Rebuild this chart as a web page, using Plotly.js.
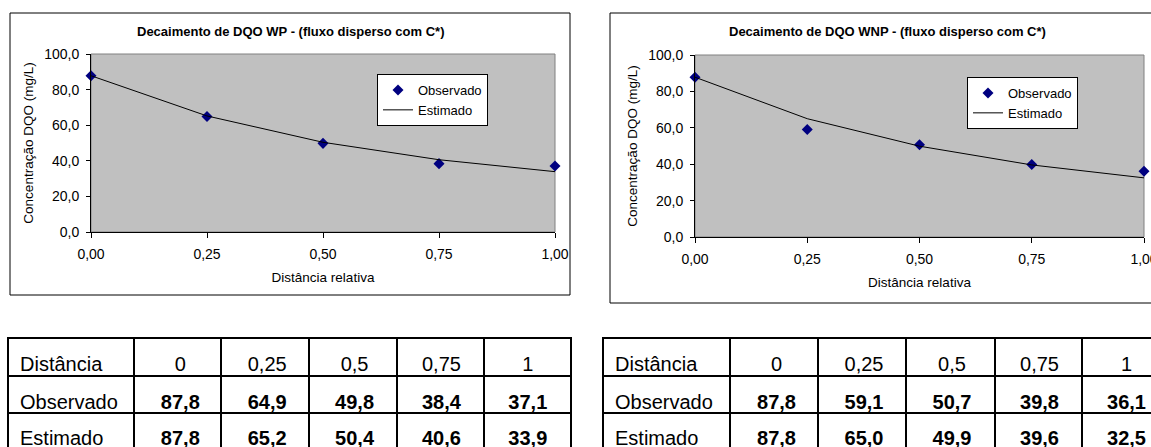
<!DOCTYPE html>
<html>
<head>
<meta charset="utf-8">
<script src="https://cdn.plot.ly/plotly-3.0.1.min.js"></script>
<style>
html, body { margin: 0; padding: 0; overflow: hidden; background: #ffffff; }
#chart { width: 1180px; height: 480px; }
</style>
</head>
<body>
<div id="chart"></div>
<script>
// ---- data ----
const distancia = [0, 0.25, 0.5, 0.75, 1];
const distanciaLabels = ['0', '0,25', '0,5', '0,75', '1'];
const wpObservado = [87.8, 64.9, 49.8, 38.4, 37.1];
const wpEstimado = [87.8, 65.2, 50.4, 40.6, 33.9];
const wnpObservado = [87.8, 59.1, 50.7, 39.8, 36.1];
const wnpEstimado = [87.8, 65.0, 49.9, 39.6, 32.5];
const tituloWP = 'Decaimento de DQO WP - (fluxo disperso com C*)';
const tituloWNP = 'Decaimento de DQO WNP - (fluxo disperso com C*)';
const rotuloX = 'Distância relativa';
const rotuloY = 'Concentração DQO (mg/L)';
const nomesLinhas = ['Distância', 'Observado', 'Estimado'];

// ---- layout helpers ----
const W = 1180, H = 480;
const FONT = 'Liberation Sans, Arial, Helvetica, sans-serif';
const px = v => v / W;
const py = v => 1 - v / H;
const fmt = v => v.toFixed(1).replace('.', ',');

function axisX(l, r, anchor) {
  return {
    domain: [px(l), px(r)], range: [0, 1], anchor: anchor,
    tickvals: distancia, tickformat: '.2f',
    ticks: 'outside', ticklen: 5, tickcolor: '#000', tickwidth: 1,
    ticklabelstandoff: 4,
    showline: true, linecolor: '#000', linewidth: 1,
    showgrid: false, zeroline: false, fixedrange: true,
    tickfont: {family: FONT, size: 14, color: '#000'},
    title: {text: rotuloX, font: {family: FONT, size: 13.5, color: '#000'}, standoff: 11}
  };
}
function axisY(t, b, anchor) {
  return {
    domain: [py(b), py(t)], range: [0, 100], anchor: anchor,
    dtick: 20, tick0: 0, tickformat: '.1f',
    ticks: 'outside', ticklen: 4, tickcolor: '#000', tickwidth: 1,
    ticklabelstandoff: 4,
    showline: true, linecolor: '#000', linewidth: 1,
    showgrid: false, zeroline: false, fixedrange: true,
    tickfont: {family: FONT, size: 14, color: '#000'},
    title: {text: rotuloY, font: {family: FONT, size: 13.5, color: '#000'}, standoff: 7}
  };
}

function obsTrace(y, xa, ya, leg) {
  return {type: 'scatter', mode: 'markers', name: 'Observado', x: distancia, y: y,
    xaxis: xa, yaxis: ya, legend: leg, cliponaxis: false,
    marker: {symbol: 'diamond', size: 8.5, color: '#000080', line: {width: 0}}};
}
function estTrace(y, xa, ya, leg) {
  return {type: 'scatter', mode: 'lines', name: 'Estimado', x: distancia, y: y,
    xaxis: xa, yaxis: ya, legend: leg, cliponaxis: false,
    line: {color: '#000', width: 1}};
}

const colWidths = [126, 87, 88, 88, 87, 87];
const colAlign = ['left', 'center', 'center', 'center', 'center', 'center'];

function tableRows(obs, est) {
  return [
    [nomesLinhas[0]].concat(distanciaLabels),
    [nomesLinhas[1]].concat(obs.map(fmt)),
    [nomesLinhas[2]].concat(est.map(fmt))
  ];
}

// grid (cell borders) of a table: first row as header, the other two as cells
function tableGrid(l, r, obs, est) {
  const rows = tableRows(obs, est);
  const blankH = rows[0].map(() => '');
  const blankC = rows[0].map(() => ['', '']);
  return {
    type: 'table',
    domain: {x: [px(l), px(r)], y: [py(462), py(338)]},
    columnwidth: colWidths,
    header: {values: blankH, height: 38,
      line: {color: '#000', width: 2}, fill: {color: '#fff'},
      font: {family: FONT, size: 10, color: '#000'}},
    cells: {values: blankC, height: 37,
      line: {color: '#000', width: 2}, fill: {color: '#fff'},
      font: {family: FONT, size: 10, color: '#000'}}
  };
}
// text of one table row, sitting low in the cell like the reference
function tableText(l, r, vals, rowIdx) {
  const center = [363, 400.5, 436.5][rowIdx];
  const top = center - 15;
  const weights = vals.map((_, c) => (rowIdx > 0 && c > 0) ? 700 : 400);
  return {
    type: 'table',
    domain: {x: [px(l + 4), px(r)], y: [py(top + 42), py(top)]},
    columnwidth: colWidths,
    header: {values: vals, align: colAlign, height: 39,
      line: {color: 'rgba(0,0,0,0)', width: 0}, fill: {color: 'rgba(0,0,0,0)'},
      font: {family: FONT, size: 20, color: '#000', weight: weights}},
    cells: {values: []}
  };
}

function tableTraces(l, r, obs, est) {
  const rows = tableRows(obs, est);
  const out = [tableGrid(l, r, obs, est)];
  rows.forEach((vals, i) => out.push(tableText(l, r, vals, i)));
  return out;
}

const data = [
  obsTrace(wpObservado, 'x', 'y', 'legend'),
  estTrace(wpEstimado, 'x', 'y', 'legend'),
  obsTrace(wnpObservado, 'x2', 'y2', 'legend2'),
  estTrace(wnpEstimado, 'x2', 'y2', 'legend2')
].concat(tableTraces(8, 571, wpObservado, wpEstimado))
 .concat(tableTraces(603, 1170, wnpObservado, wnpEstimado));

function legendAt(l, t) {
  return {x: px(l), y: py(t), xanchor: 'left', yanchor: 'top',
    bgcolor: '#fff', bordercolor: '#000', borderwidth: 1,
    font: {family: FONT, size: 13, color: '#000'},
    itemwidth: 30, tracegroupgap: 0, traceorder: 'normal'};
}

function box(l, t, r, b, color) {
  return {type: 'rect', xref: 'paper', yref: 'paper', layer: 'below',
    x0: px(l), x1: px(r), y0: py(b), y1: py(t),
    line: {color: color, width: 1}, fillcolor: 'rgba(0,0,0,0)'};
}

const layout = {
  width: W, height: H,
  margin: {l: 0, r: 0, t: 0, b: 0},
  paper_bgcolor: '#fff', plot_bgcolor: '#c0c0c0',
  separators: ',.',
  showlegend: true,
  font: {family: FONT, size: 13, color: '#000'},
  xaxis: axisX(91, 555, 'y'),
  yaxis: axisY(54, 232, 'x'),
  xaxis2: axisX(695, 1144, 'y2'),
  yaxis2: axisY(55, 237, 'x2'),
  legend: legendAt(377, 74),
  legend2: legendAt(967, 77),
  shapes: [
    box(10, 13, 570, 295, '#000'),
    box(610, 13, 1164, 303, '#000'),
    box(91, 54, 555, 232, '#808080'),
    box(695, 55, 1144, 237, '#808080')
  ],
  annotations: [
    {text: '<b>' + tituloWP + '</b>', xref: 'paper', yref: 'paper', x: px(290), y: py(32),
     xanchor: 'center', yanchor: 'middle',
     showarrow: false, font: {family: FONT, size: 13, color: '#000'}},
    {text: '<b>' + tituloWNP + '</b>', xref: 'paper', yref: 'paper', x: px(887), y: py(32),
     xanchor: 'center', yanchor: 'middle',
     showarrow: false, font: {family: FONT, size: 13, color: '#000'}}
  ]
};

Plotly.newPlot('chart', data, layout, {displayModeBar: false, staticPlot: true});
</script>
</body>
</html>
